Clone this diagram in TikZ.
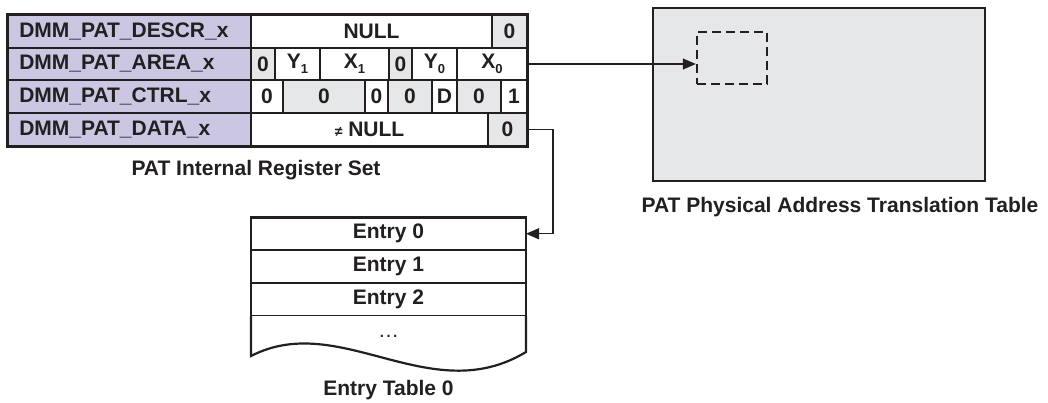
\documentclass[tikz,border=0pt]{standalone}
\usepackage{fontspec}
\setmainfont{Liberation Sans}
\usetikzlibrary{arrows.meta}
\definecolor{lav}{HTML}{CBC6E2}
\definecolor{lgrey}{HTML}{E6E7E8}
\definecolor{ink}{HTML}{231F20}
\newcommand{\regcell}[7]{%
  \pgfmathsetmacro\rcW{#3-#2}\pgfmathsetmacro\rcH{#5-#4}%
  \pgfmathsetmacro\rcX{(#2+#3)/2}\pgfmathsetmacro\rcY{(#4+#5)/2}%
  \node[cellbox, fill=#6, minimum width=\rcW pt, minimum height=\rcH pt] (#1) at (\rcX,\rcY) {#7};}
\newcommand{\subidx}[1]{\raisebox{-0.45ex}{\fontsize{13}{13}\selectfont #1}}
\newcommand{\labtxt}[1]{\makebox[220pt][l]{#1}}
\begin{document}
\begin{tikzpicture}[x=1pt,y=-1pt,
  font=\fontsize{21}{24}\selectfont\bfseries,
  every node/.style={text=ink},
  cellbox/.style={draw=ink, line width=2.2pt, inner sep=0pt, outer sep=0pt},
  conn/.style={draw=ink, line width=1.2pt, -{Triangle[length=13pt,width=11pt]}},
  caption/.style={inner sep=0pt}]
\useasboundingbox (0,0) rectangle (1048,402);
% PAT physical address translation table
\node[draw=ink, fill=lgrey, line width=2.4pt, minimum width=332pt, minimum height=173pt, inner sep=0pt] (pat) at (819,94.5) {};
\node[draw=ink, line width=2.4pt, dash pattern=on 9pt off 5pt, minimum width=70pt, minimum height=52pt, inner sep=0pt] (win) at (732,58) {};
\node[caption] (patcap) at (840,207) {PAT Physical Address Translation Table};
% register set
\regcell{l1}{7.5}{251}{14}{48}{lav}{\labtxt{DMM\_PAT\_DESCR\_x}}
\regcell{l2}{7.5}{251}{48}{80}{lav}{\labtxt{DMM\_PAT\_AREA\_x}}
\regcell{l3}{7.5}{251}{80}{113}{lav}{\labtxt{DMM\_PAT\_CTRL\_x}}
\regcell{l4}{7.5}{251}{113}{146.5}{lav}{\labtxt{DMM\_PAT\_DATA\_x}}
\regcell{r1a}{251}{492}{14}{48}{white}{NULL}
\regcell{r1b}{492}{527}{14}{48}{lgrey}{0}
\regcell{r2a}{251}{275}{48}{80}{lgrey}{0}
\regcell{r2b}{275}{320}{48}{80}{white}{Y\subidx{1}}
\regcell{r2c}{320}{389}{48}{80}{white}{X\subidx{1}}
\regcell{r2d}{389}{412}{48}{80}{lgrey}{0}
\regcell{r2e}{412}{457}{48}{80}{white}{Y\subidx{0}}
\regcell{r2f}{457}{527}{48}{80}{white}{X\subidx{0}}
\regcell{r3a}{251}{283}{80}{113}{white}{0}
\regcell{r3b}{283}{365}{80}{113}{lgrey}{0}
\regcell{r3c}{365}{388}{80}{113}{white}{0}
\regcell{r3d}{388}{432}{80}{113}{lgrey}{0}
\regcell{r3e}{432}{457}{80}{113}{white}{D}
\regcell{r3f}{457}{501}{80}{113}{lgrey}{0}
\regcell{r3g}{501}{527}{80}{113}{white}{1}
\regcell{r4a}{251}{488}{113}{146.5}{white}{{\fontsize{14}{14}\selectfont ≠} NULL}
\regcell{r4b}{488}{527}{113}{146.5}{lgrey}{0}
\draw[ink, line width=3pt] (l1.north west) rectangle (r4b.south east);
\node[caption] (regcap) at (256,170) {PAT Internal Register Set};
% entry table
\regcell{e0}{251}{526}{217.5}{250}{white}{Entry 0}
\regcell{e1}{251}{526}{250}{283}{white}{Entry 1}
\regcell{e2}{251}{526}{283}{316}{white}{Entry 2}
\draw[ink, line width=2.2pt, fill=white] (e2.south west) -- (251,356)
  .. controls (340,310) and (430,410) .. (526,352) -- (e2.south east);
\node[font=\fontsize{21}{24}\selectfont\mdseries, inner sep=0pt] (edots) at (388.5,336) {…};
\node[caption] (entcap) at (388.5,390) {Entry Table 0};
% connectors
\draw[conn] (r2f.east) -- (r2f.east -| win.west);
\draw[conn] (r4b.east) -- ++(26,0) |- (e0.east);
\end{tikzpicture}
\end{document}
